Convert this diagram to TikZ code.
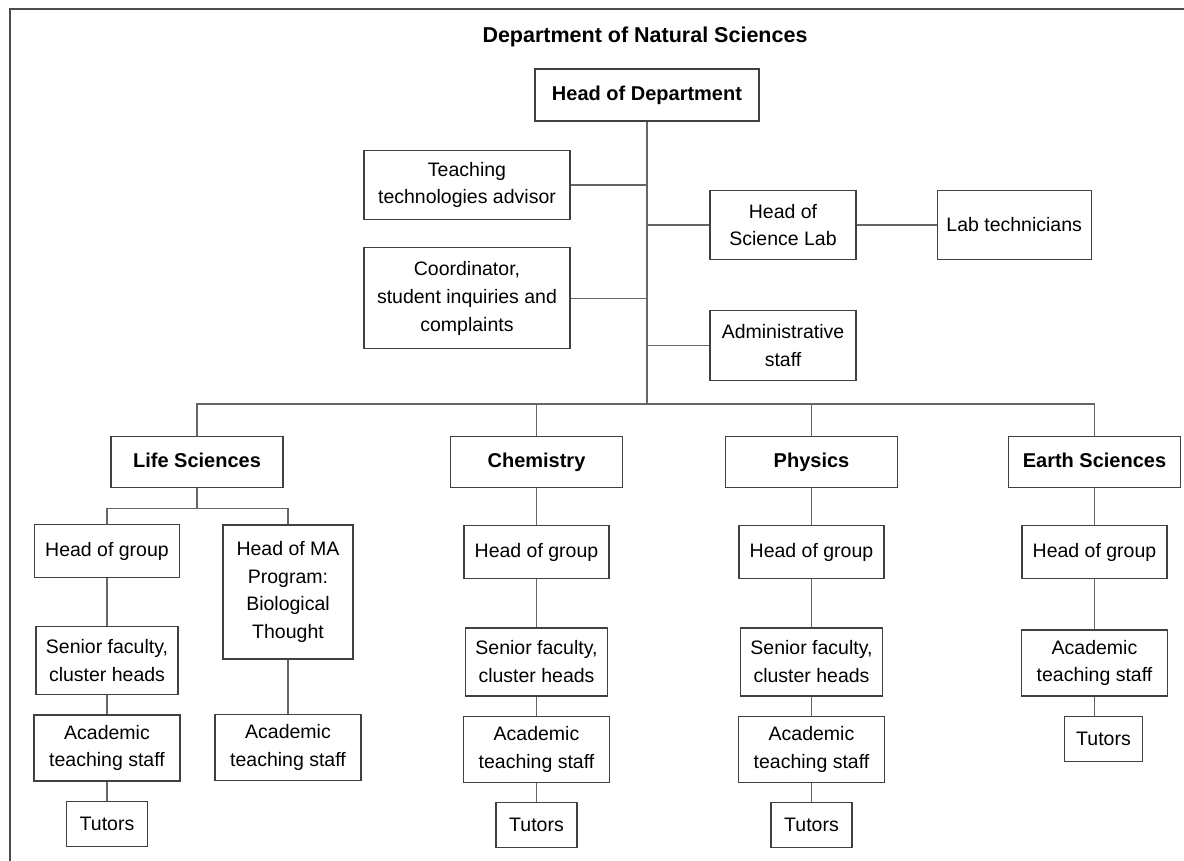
\documentclass[tikz,border=0pt]{standalone}
\usepackage{fontspec}
\setmainfont{Liberation Sans}
\usetikzlibrary{positioning}
\tikzset{
  unit/.style={
    rectangle, draw=black!75, line width=0.6pt, align=center,
    inner sep=2pt, font=\fontsize{9.75}{13.9}\selectfont
  },
  division/.style={
    unit, font=\fontsize{10}{12}\selectfont\bfseries,
    text height=7.3pt, text depth=2.1pt,
    minimum width=86pt, minimum height=25.5pt
  },
  headgroup/.style={unit, minimum width=72.5pt, minimum height=26.5pt},
  senior/.style={unit, minimum width=71pt, minimum height=34pt},
  academic/.style={unit, minimum width=73pt, minimum height=33pt},
  tutors/.style={unit, minimum width=40.5pt, minimum height=22.5pt},
  link/.style={draw=black!60, line width=0.6pt}
}

\begin{document}
\begin{tikzpicture}[x=0.5pt, y=-0.5pt]

    \useasboundingbox (0,0) rectangle (1184,861);
    \draw[black!70, line width=0.7pt] (1184,9) -- (10,9) -- (10,861);

    % Top
    \node[font=\fontsize{10.75}{13}\selectfont\bfseries] (title) at (645,37) {Department of Natural Sciences};
    \node[unit, font=\fontsize{10}{12}\selectfont\bfseries, minimum width=112pt, minimum height=26pt] (hod) at (647,95) {Head of Department};
    \coordinate (trunk) at (647,404);

    % Staff units
    \node[unit, minimum width=103pt, minimum height=34.5pt] (tta) at (467,185) {Teaching\\technologies advisor};
    \node[unit, minimum width=103pt, minimum height=50.5pt, below=13.5pt of tta] (coord) {Coordinator,\\student inquiries and\\complaints};
    \node[unit, minimum width=73pt, minimum height=34.5pt] (lab) at (783,225) {Head of\\Science Lab};
    \node[unit, minimum width=77pt, minimum height=34.5pt, right=40pt of lab] (tech) {Lab technicians};
    \node[unit, minimum width=73pt, minimum height=35pt, below=25pt of lab] (admin) {Administrative\\staff};

    % Divisions
    \node[division] (life) at (197,462) {Life Sciences};
    \node[division] (chem) at (536.5,462) {Chemistry};
    \node[division] (phys) at (811.5,462) {Physics};
    \node[division] (earth) at (1094.5,462) {Earth Sciences};

    % Life Sciences
    \node[headgroup] (lhead) at (107,551) {Head of group};
    \node[senior, below=24pt of lhead] (lsen) {Senior faculty,\\cluster heads};
    \node[academic, below=9.5pt of lsen] (lacad) {Academic\\teaching staff};
    \node[tutors, below=9.5pt of lacad] (ltut) {Tutors};
    \node[unit, minimum width=65pt, minimum height=67pt] (lma) at (288,592) {Head of MA\\Program:\\Biological\\Thought};
    \node[academic, below=27pt of lma] (lmaacad) {Academic\\teaching staff};

    % Chemistry
    \node[headgroup, below=18.5pt of chem] (chead) {Head of group};
    \node[senior, below=24pt of chead] (csen) {Senior faculty,\\cluster heads};
    \node[academic, below=9.5pt of csen] (cacad) {Academic\\teaching staff};
    \node[tutors, below=9.5pt of cacad] (ctut) {Tutors};

    % Physics
    \node[headgroup, below=18.5pt of phys] (phead) {Head of group};
    \node[senior, below=24pt of phead] (psen) {Senior faculty,\\cluster heads};
    \node[academic, below=9.5pt of psen] (pacad) {Academic\\teaching staff};
    \node[tutors, below=9.5pt of pacad] (ptut) {Tutors};

    % Earth Sciences
    \node[headgroup, below=18.5pt of earth] (ehead) {Head of group};
    \node[academic, below=25pt of ehead] (eacad) {Academic\\teaching staff};
    \node[tutors, minimum width=39pt, below=9.5pt of eacad, xshift=4.5pt] (etut) {Tutors};

    % Lines
    \draw[link] (hod) -- (trunk);
    \draw[link] (tta.east) -- (tta.east -| trunk);
    \draw[link] (coord.east) -- (coord.east -| trunk);
    \draw[link] (lab.west) -- (lab.west -| trunk);
    \draw[link] (admin.west) -- (admin.west -| trunk);
    \draw[link] (lab) -- (tech);
    \draw[link] (life.north) |- (trunk) -| (earth.north);
    \draw[link] (chem.north) -- (chem.north |- trunk);
    \draw[link] (phys.north) -- (phys.north |- trunk);

    \draw[link] (life.south) -- ++(0,20) coordinate (lsplit);
    \draw[link] (lhead.north) |- (lsplit) -| (lma.north);
    \draw[link] (lhead) -- (lsen) -- (lacad) -- (ltut);
    \draw[link] (lma) -- (lmaacad);
    \draw[link] (chem) -- (chead) -- (csen) -- (cacad) -- (ctut);
    \draw[link] (phys) -- (phead) -- (psen) -- (pacad) -- (ptut);
    \draw[link] (earth) -- (ehead) -- (eacad);
    \draw[link] (eacad.south) -- (eacad.south |- etut.north);

\end{tikzpicture}
\end{document}
